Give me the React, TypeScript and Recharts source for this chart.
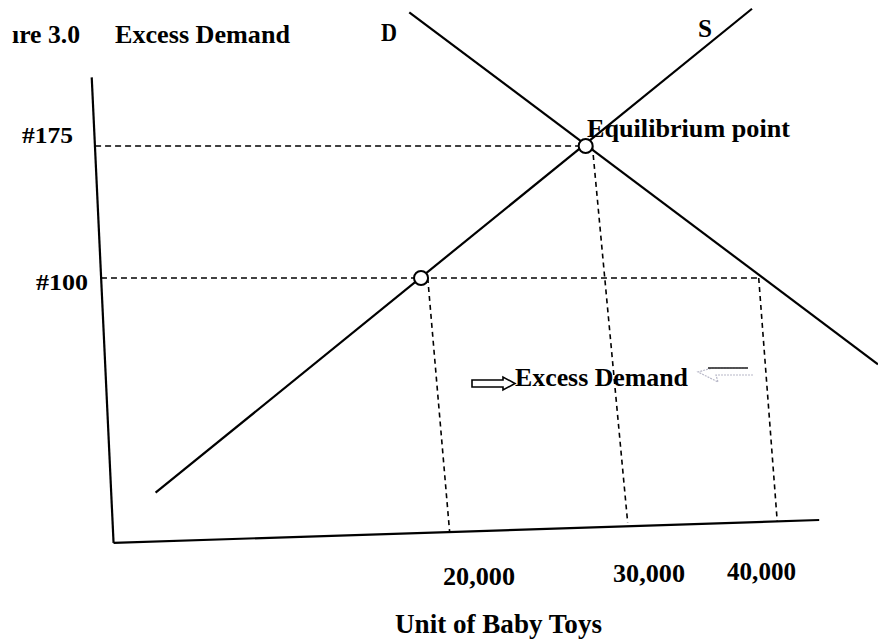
import React from 'react';
import { ComposedChart, Line, XAxis, YAxis, ReferenceLine, ReferenceDot, Customized } from 'recharts';

// ---- data (q = units of baby toys, p = price) ----
const supplyLine = [
  { q: 4200, p: -22 },
  { q: 39700, p: 253 },
];
const demandLine = [
  { q: 19300, p: 251 },
  { q: 47200, p: 51 },
];
const keyPoints = [
  { q: 20000, p: 100 },
  { q: 29800, p: 175 },
];
const priceTicks = [100, 175];
const quantityTicks = [20000, 30000, 40000];

// hand-drawn axes (slightly tilted in the scan)
const yAxisSegment = [{ q: 400, p: 214 }, { q: 1700, p: -50.5 }];
const xAxisSegment = [{ q: 1700, p: -50.5 }, { q: 43700, p: -37.5 }];

// dashed guide lines
const priceGuides = [
  [{ q: 600, p: 175 }, { q: 29800, p: 175 }],
  [{ q: 950, p: 100 }, { q: 40100, p: 100 }],
];
const quantityGuides = [
  [{ q: 20400, p: 100 }, { q: 21700, p: -44 }],
  [{ q: 30200, p: 175 }, { q: 32300, p: -39 }],
  [{ q: 40100, p: 100 }, { q: 41200, p: -38 }],
];

// ---- layout / style ----
const FONT = "'Liberation Serif', 'Times New Roman', serif";
const xTickLayout: Record<number, { dx: number; base: number; w: number }> = {
  20000: { dx: 22, base: 585, w: 72 },
  30000: { dx: 24, base: 582, w: 72 },
  40000: { dx: -30, base: 580, w: 69 },
};
const yTickLayout: Record<number, { left: number; dy: number; w: number }> = {
  175: { left: 22, dy: -3, w: 51 },
  100: { left: 36, dy: 12, w: 52 },
};
const notes = [
  { text: 'ıre 3.0', x: 12, y: 43, w: 68, size: 25 },
  { text: 'Excess Demand', x: 115, y: 43, w: 175, size: 25 },
  { text: 'D', x: 381, y: 41, w: 16, size: 26 },
  { text: 'S', x: 698, y: 37, w: 14, size: 26 },
  { text: 'Equilibrium point', x: 587, y: 137, w: 203, size: 26 },
  { text: 'Excess Demand', x: 515, y: 386, w: 173, size: 26 },
  { text: 'Unit of Baby Toys', x: 395, y: 633, w: 207, size: 27 },
];

const BoldText = ({ x, y, w, size, children }: any) => (
  <text
    x={x}
    y={y}
    textLength={w}
    lengthAdjust="spacingAndGlyphs"
    fontFamily={FONT}
    fontWeight="bold"
    fontSize={size}
    fill="#000"
  >
    {children}
  </text>
);

const XTick = (props: any) => {
  const v = props.payload.value;
  const l = xTickLayout[v];
  return (
    <BoldText x={props.payload.coordinate + l.dx} y={l.base} w={l.w} size={26}>
      {v.toLocaleString('en-US')}
    </BoldText>
  );
};

const YTick = (props: any) => {
  const v = props.payload.value;
  const l = yTickLayout[v];
  return (
    <BoldText x={l.left} y={props.payload.coordinate + l.dy} w={l.w} size={24}>
      {`#${v}`}
    </BoldText>
  );
};

const Annotations = () => (
  <g>
    {notes.map((n, i) => (
      <BoldText key={i} x={n.x} y={n.y} w={n.w} size={n.size}>
        {n.text}
      </BoldText>
    ))}
    <path
      d="M472,380 L503,380 L503,377 L515,383.5 L503,390 L503,387 L472,387 Z"
      fill="#fff"
      stroke="#000"
      strokeWidth={1.6}
    />
    <path
      d="M753,375 L716,375 L718,382 L698,372 L712,368 L748,368"
      fill="none"
      stroke="#b8b8c8"
      strokeWidth={1.2}
      strokeDasharray="2 1"
    />
    <line x1={708} y1={368} x2={748} y2={368} stroke="#222" strokeWidth={1.5} />
  </g>
);

export default function App() {
  return (
    <div style={{ position: 'absolute', left: 0, top: 0, background: '#fff' }}>
      <ComposedChart
        width={878}
        height={641}
        margin={{ top: 7, right: 0, bottom: 0, left: 0 }}
      >
        <XAxis
          type="number"
          dataKey="q"
          domain={[0, 47200]}
          ticks={quantityTicks}
          axisLine={false}
          tickLine={false}
          height={99}
          tick={<XTick />}
          allowDataOverflow
        />
        <YAxis
          type="number"
          dataKey="p"
          domain={[-50, 254]}
          ticks={priceTicks}
          axisLine={false}
          tickLine={false}
          width={85}
          tick={<YTick />}
          allowDataOverflow
        />
        {priceGuides.map((s, i) => (
          <ReferenceLine
            key={'pg' + i}
            segment={s.map((d) => ({ x: d.q, y: d.p }))}
            stroke="#000"
            strokeWidth={1.6}
            strokeDasharray="6 4"
            ifOverflow="visible"
          />
        ))}
        {quantityGuides.map((s, i) => (
          <ReferenceLine
            key={'qg' + i}
            segment={s.map((d) => ({ x: d.q, y: d.p }))}
            stroke="#000"
            strokeWidth={1.6}
            strokeDasharray="5 4"
            ifOverflow="visible"
          />
        ))}
        <ReferenceLine
          segment={yAxisSegment.map((d) => ({ x: d.q, y: d.p }))}
          stroke="#000"
          strokeWidth={2.2}
          ifOverflow="visible"
        />
        <ReferenceLine
          segment={xAxisSegment.map((d) => ({ x: d.q, y: d.p }))}
          stroke="#000"
          strokeWidth={2.2}
          ifOverflow="visible"
        />
        <Line
          data={supplyLine}
          dataKey="p"
          stroke="#000"
          strokeWidth={2.2}
          dot={false}
          activeDot={false}
          isAnimationActive={false}
        />
        <Line
          data={demandLine}
          dataKey="p"
          stroke="#000"
          strokeWidth={2.2}
          dot={false}
          activeDot={false}
          isAnimationActive={false}
        />
        {keyPoints.map((d, i) => (
          <ReferenceDot
            key={'kp' + i}
            x={d.q}
            y={d.p}
            r={7}
            fill="#fff"
            stroke="#000"
            strokeWidth={2}
            ifOverflow="visible"
          />
        ))}
        <Customized component={Annotations} />
      </ComposedChart>
    </div>
  );
}
